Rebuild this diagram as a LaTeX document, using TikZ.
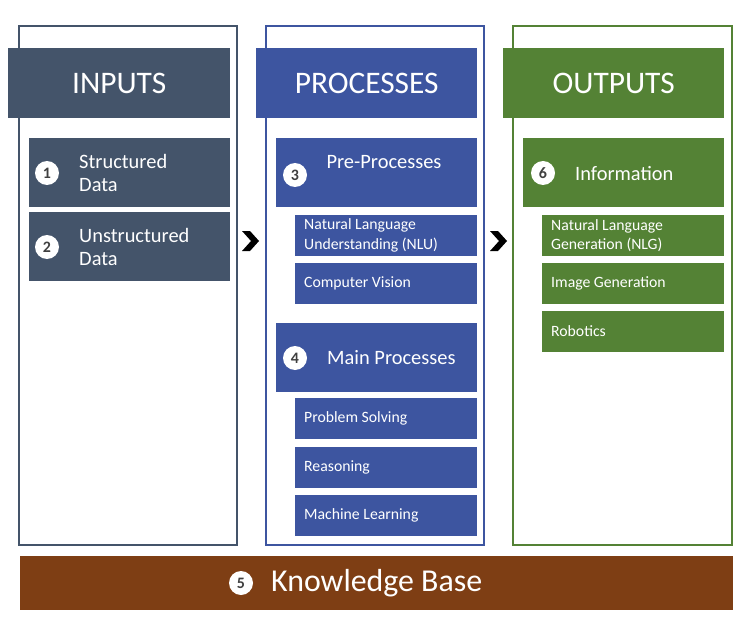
\documentclass[tikz,border=0pt]{standalone}
\usepackage{fontspec}
\setmainfont{Carlito}
\definecolor{cin}{HTML}{44546A}
\definecolor{cpr}{HTML}{3D55A0}
\definecolor{cout}{HTML}{548235}
\definecolor{ckb}{HTML}{7E3E14}
\definecolor{cnum}{HTML}{404040}
\tikzset{
  outl/.style={draw=#1, line width=2bp},
  hdr/.style={fill=#1, text=white, anchor=north west, inner sep=0pt,
    minimum height=70bp, font=\fontsize{31.5}{33}\selectfont},
  bigbox/.style={fill=#1, anchor=north west, inner sep=0pt, minimum width=201bp, minimum height=69bp},
  subbox/.style={fill=#1, anchor=north west, inner sep=0pt, minimum width=182bp, minimum height=41bp},
  numc/.style={circle, fill=white, minimum size=24bp, inner sep=0pt, text=cnum, font=\bfseries\fontsize{16}{16}\selectfont},
  btxt/.style={text=white, anchor=west, align=left, inner sep=0pt, font=\fontsize{20.5}{24}\selectfont},
  stxt/.style={text=white, anchor=west, align=left, inner sep=0pt, font=\fontsize{15.8}{19.5}\selectfont},
  chev/.style={fill=black, draw=none}
}
\begin{document}
\begin{tikzpicture}[x=1bp,y=-1bp]
\useasboundingbox (0,0) rectangle (753,635);
% column outlines
\draw[outl=cin] (19,26) rectangle (237,545);
\draw[outl=cpr] (266,26) rectangle (484,545);
\draw[outl=cout] (513,26) rectangle (732,545);
% headers
\node[hdr=cin, minimum width=222bp] (hin) at (8,48) {INPUTS};
\node[hdr=cpr, minimum width=221bp] (hpr) at (256,48) {PROCESSES};
\node[hdr=cout, minimum width=221bp] (hout) at (503,48) {OUTPUTS};
% inputs
\node[bigbox=cin] (sd) at (29,138) {};
\node[numc] (n1) at (47,173) {1};
\node[btxt] (sdt) at (79,173) {Structured\\Data};
\node[bigbox=cin] (ud) at (29,212) {};
\node[numc] (n2) at (47,247) {2};
\node[btxt] (udt) at (79,247) {Unstructured\\Data};
% processes
\node[bigbox=cpr] (pre) at (276,138) {};
\node[numc] (n3) at (295,175) {3};
\node[btxt, anchor=center] (pret) at (384,162) {Pre-Processes};
\node[subbox=cpr] (nlu) at (295,215) {};
\node[stxt] (nlut) at (304,235.5) {Natural Language\\Understanding (NLU)};
\node[subbox=cpr] (cv) at (295,263) {};
\node[stxt] (cvt) at (304,283.5) {Computer Vision};
\node[bigbox=cpr] (mp) at (276,323) {};
\node[numc] (n4) at (295,358) {4};
\node[btxt] (mpt) at (327,358) {Main Processes};
\node[subbox=cpr] (ps) at (295,398) {};
\node[stxt] (pst) at (304,418.5) {Problem Solving};
\node[subbox=cpr] (re) at (295,447) {};
\node[stxt] (ret) at (304,467.5) {Reasoning};
\node[subbox=cpr] (ml) at (295,495) {};
\node[stxt] (mlt) at (304,515.5) {Machine Learning};
% outputs
\node[bigbox=cout] (inf) at (523,138) {};
\node[numc] (n6) at (543,173) {6};
\node[btxt] (inft) at (575,174) {Information};
\node[subbox=cout] (nlg) at (542,215) {};
\node[stxt] (nlgt) at (551,235.5) {Natural Language\\Generation (NLG)};
\node[subbox=cout] (ig) at (542,263) {};
\node[stxt] (igt) at (551,283.5) {Image Generation};
\node[subbox=cout] (rob) at (542,311) {};
\node[stxt] (robt) at (551,331.5) {Robotics};
% knowledge base
\node[fill=ckb, anchor=north west, inner sep=0pt, minimum width=713bp, minimum height=54bp] (kb) at (20,556) {};
\node[numc] (n5) at (241,583) {5};
\node[text=white, anchor=west, inner sep=0pt, font=\fontsize{32}{34}\selectfont] (kbt) at (271,583) {Knowledge Base};
% chevrons
\fill[chev] (242,231) -- (250,231) -- (259,241) -- (250,251) -- (242,251) -- (251,241) -- cycle;
\fill[chev] (490,231) -- (498,231) -- (507,241) -- (498,251) -- (490,251) -- (499,241) -- cycle;
\end{tikzpicture}
\end{document}
